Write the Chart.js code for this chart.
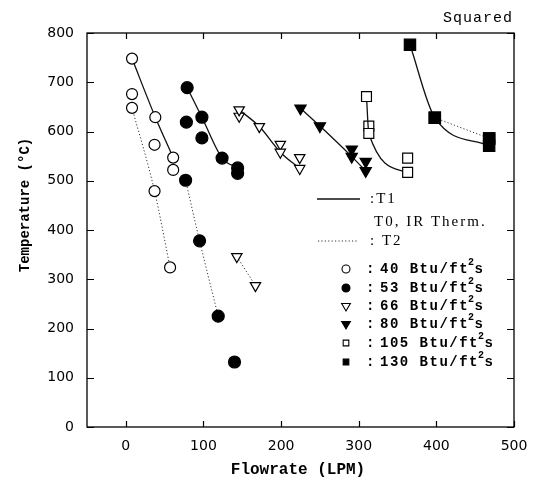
<!DOCTYPE html>
<html>
<head>
<meta charset="utf-8">
<script src="https://cdn.jsdelivr.net/npm/chart.js@4.4.1/dist/chart.umd.min.js"></script>
<style>
    body { margin: 0; background: #fff; }
    canvas { display: block; }
</style>
</head>
<body>
<canvas id="flowChart" width="535" height="489"></canvas>
<script>
// axis ticks
const xTicks = [0, 100, 200, 300, 400, 500];
const yTicks = [0, 100, 200, 300, 400, 500, 600, 700, 800];

// heat flux levels, Btu/ft2 s
const fluxLabels = ['40', '53', '66', '80', '105', '130'];

// [flowrate (LPM), temperature (C)]
const t1_40 = [[8, 748], [38, 629], [61, 547]];
const t0_40 = [[8, 676], [37, 573], [61, 522]];
const t2_40 = [[8, 648], [37, 479], [57, 324]];

const t1_53 = [[79, 689], [98, 629], [124, 546], [144, 526]];
const t0_53 = [[78, 619], [98, 587], [144, 515], [140, 132]];
const t2_53 = [[77, 501], [95, 378], [119, 225]];

const t1_66 = [[146, 644], [172, 610], [199, 558], [224, 525]];
const t0_66 = [[146, 631], [199, 574], [224, 547]];
const t2_66 = [[143, 346], [167, 287]];

const t1_80 = [[225, 647], [250, 611], [291, 549], [309, 520]];
const t0_80 = [[291, 564], [309, 539]];

const t1_105 = [[310, 671], [313, 596], [363, 517]];
const t0_105 = [[313, 611], [363, 546]];

const t1_130 = [[366, 776], [398, 628], [468, 571]];
const t0_130 = [[468, 586]];
const t2_130 = [[398, 628], [468, 586]];

// marker look per flux level
const markers = [
    { style: 'circle', filled: false, radius: 5.5, rotation: 0 },
    { style: 'circle', filled: true, radius: 6, rotation: 0 },
    { style: 'triangle', filled: false, radius: 6, rotation: 180 },
    { style: 'triangle', filled: true, radius: 6.5, rotation: 180 },
    { style: 'rect', filled: false, radius: 7, rotation: 0 },
    { style: 'rect', filled: true, radius: 8, rotation: 0 }
];

function series(points, m, kind) {
    return {
        data: points.map(p => ({ x: p[0], y: p[1] })),
        showLine: kind !== 'T0',
        borderColor: kind === 'T2' ? '#333' : '#111',
        borderWidth: kind === 'T2' ? 1 : 1.3,
        borderDash: kind === 'T2' ? [1.2, 2.2] : [],
        cubicInterpolationMode: 'monotone',
        pointStyle: m.style,
        pointRadius: m.radius,
        pointRotation: m.rotation,
        pointBackgroundColor: m.filled ? '#000' : '#fff',
        pointBorderColor: '#000',
        pointBorderWidth: 1.2
    };
}

const datasets = [
    series(t1_40, markers[0], 'T1'), series(t0_40, markers[0], 'T0'), series(t2_40, markers[0], 'T2'),
    series(t1_53, markers[1], 'T1'), series(t0_53, markers[1], 'T0'), series(t2_53, markers[1], 'T2'),
    series(t1_66, markers[2], 'T1'), series(t0_66, markers[2], 'T0'), series(t2_66, markers[2], 'T2'),
    series(t1_80, markers[3], 'T1'), series(t0_80, markers[3], 'T0'),
    series(t1_105, markers[4], 'T1'), series(t0_105, markers[4], 'T0'),
    series(t2_130, markers[5], 'T2'), series(t1_130, markers[5], 'T1'), series(t0_130, markers[5], 'T0')
];

function drawMarker(ctx, m, x, y, r) {
    ctx.save();
    ctx.fillStyle = m.filled ? '#000' : '#fff';
    ctx.strokeStyle = '#000';
    ctx.lineWidth = 1.1;
    ctx.beginPath();
    if (m.style === 'circle') {
        ctx.arc(x, y, r, 0, Math.PI * 2);
    } else if (m.style === 'triangle') {
        ctx.moveTo(x - r * 0.87, y - r * 0.5);
        ctx.lineTo(x + r * 0.87, y - r * 0.5);
        ctx.lineTo(x, y + r);
        ctx.closePath();
    } else {
        const s = r * Math.SQRT1_2;
        ctx.rect(x - s, y - s, 2 * s, 2 * s);
    }
    ctx.fill();
    ctx.stroke();
    ctx.restore();
}

const framePlugin = {
    id: 'frame',
    afterDraw(chart) {
        const { ctx, chartArea: a, scales: { x, y } } = chart;
        ctx.save();
        ctx.strokeStyle = '#000';
        ctx.lineWidth = 1.3;
        ctx.strokeRect(a.left, a.top, a.right - a.left, a.bottom - a.top);

        // inward tick marks on all four sides
        ctx.lineWidth = 1.2;
        ctx.beginPath();
        xTicks.forEach(v => {
            const px = Math.round(x.getPixelForValue(v)) + 0.5;
            ctx.moveTo(px, a.bottom); ctx.lineTo(px, a.bottom - 6);
            ctx.moveTo(px, a.top); ctx.lineTo(px, a.top + 6);
        });
        yTicks.forEach(v => {
            const py = Math.round(y.getPixelForValue(v)) + 0.5;
            ctx.moveTo(a.left, py); ctx.lineTo(a.left + 7, py);
            ctx.moveTo(a.right, py); ctx.lineTo(a.right - 7, py);
        });
        ctx.stroke();

        // axis titles
        ctx.fillStyle = '#000';
        ctx.textAlign = 'center';
        ctx.textBaseline = 'middle';
        ctx.font = 'bold 16px "Liberation Mono"';
        ctx.fillText('Flowrate (LPM)', 298, 470);
        ctx.save();
        ctx.translate(25, 205);
        ctx.rotate(-Math.PI / 2);
        ctx.font = 'bold 14px "Liberation Mono"';
        ctx.fillText('Temperature (°C)', 0, 0);
        ctx.restore();

        ctx.textAlign = 'right';
        ctx.font = '15px "Liberation Mono"';
        ctx.letterSpacing = '1px';
        ctx.fillText('Squared', 513, 18);

        // legend: line kinds
        ctx.textAlign = 'left';
        ctx.strokeStyle = '#111';
        ctx.lineWidth = 1.3;
        ctx.beginPath();
        ctx.moveTo(317, 199); ctx.lineTo(360, 199);
        ctx.stroke();
        ctx.save();
        ctx.strokeStyle = '#333';
        ctx.lineWidth = 1;
        ctx.setLineDash([1.2, 2.2]);
        ctx.beginPath();
        ctx.moveTo(318, 241); ctx.lineTo(357, 241);
        ctx.stroke();
        ctx.restore();

        ctx.font = '15px "Liberation Serif"';
        ctx.letterSpacing = '2px';
        ctx.fillText(':T1', 370, 199);
        ctx.fillText('T0, IR Therm.', 374, 222);
        ctx.fillText(': T2', 370, 241);

        // legend: heat flux markers
        const rowY = [269, 288, 306, 324, 343, 362];
        fluxLabels.forEach((lbl, i) => {
            const yy = rowY[i];
            drawMarker(ctx, markers[i], 346, yy, markers[i].style === 'triangle' ? 5 : 4);
            ctx.font = 'bold 14px "Liberation Mono"';
            ctx.letterSpacing = '0px';
            ctx.fillText(':', 366, yy);
            ctx.letterSpacing = '1.5px';
            const head = lbl + ' Btu/ft';
            const xHead = 380;
            ctx.fillText(head, xHead, yy);
            let xx = xHead + ctx.measureText(head).width;
            ctx.font = 'bold 10px "Liberation Mono"';
            ctx.fillText('2', xx - 1, yy - 7);
            xx += ctx.measureText('2').width - 2;
            ctx.font = 'bold 14px "Liberation Mono"';
            ctx.fillText('s', xx, yy);
        });
        ctx.restore();
    }
};

new Chart(document.getElementById('flowChart'), {
    type: 'scatter',
    data: { datasets: datasets },
    options: {
        responsive: false,
        animation: false,
        events: [],
        layout: { padding: { left: 0, right: 21, top: 33, bottom: 0 } },
        plugins: {
            legend: { display: false },
            tooltip: { enabled: false }
        },
        scales: {
            x: {
                type: 'linear',
                min: -50,
                max: 500,
                afterBuildTicks: scale => { scale.ticks = xTicks.map(v => ({ value: v })); },
                afterFit: scale => { scale.height = 62; },
                grid: { display: false },
                border: { display: false },
                ticks: { color: '#000', padding: 3, maxRotation: 0, font: { family: '"DejaVu Sans"', size: 14 } }
            },
            y: {
                type: 'linear',
                min: 0,
                max: 800,
                afterBuildTicks: scale => { scale.ticks = yTicks.map(v => ({ value: v })); },
                afterFit: scale => { scale.width = 87; },
                grid: { display: false },
                border: { display: false },
                ticks: { color: '#000', padding: 5, font: { family: '"DejaVu Sans"', size: 14 } }
            }
        }
    },
    plugins: [framePlugin]
});
</script>
</body>
</html>
